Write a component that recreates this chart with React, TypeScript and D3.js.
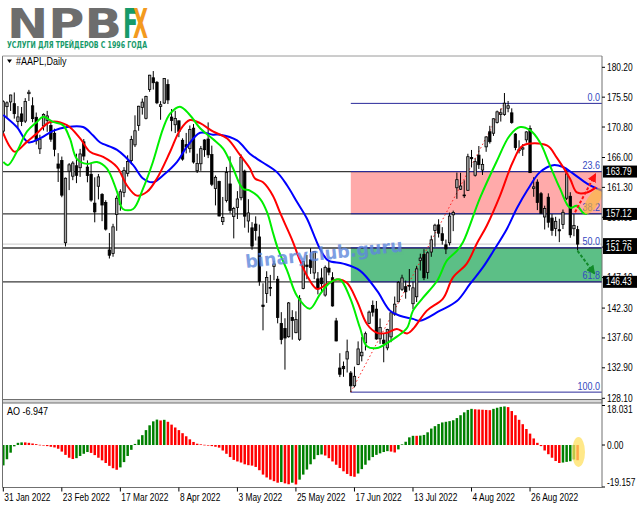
import * as d3 from "d3";

// daily bars, 31 Jan 2022 .. 15 Sep 2022  [open, high, low, close]
const candles: [number, number, number, number][] = [
  [170.16, 175.0, 169.51, 174.78], [174.01, 174.84, 172.31, 174.61], [174.75, 175.88, 173.33, 175.84],
  [174.48, 176.24, 172.12, 172.9], [171.68, 174.1, 170.68, 172.39], [172.86, 173.95, 170.95, 171.66],
  [171.73, 175.35, 171.43, 174.83], [176.05, 176.65, 174.9, 176.28], [174.14, 175.48, 171.55, 172.12],
  [172.33, 173.08, 168.04, 168.64], [167.37, 169.58, 166.56, 168.88], [170.97, 172.95, 170.25, 172.79],
  [171.85, 173.34, 170.05, 172.55], [171.03, 171.91, 168.47, 168.88], [169.82, 170.54, 166.19, 167.3],
  [164.98, 166.69, 162.15, 164.32], [165.54, 166.15, 159.75, 160.07], [152.58, 162.85, 152.0, 162.74],
  [163.84, 165.12, 160.87, 164.85], [163.06, 165.42, 162.43, 165.12], [164.7, 166.6, 161.97, 163.2],
  [164.39, 167.36, 162.95, 166.56], [168.47, 168.91, 165.55, 166.23], [164.49, 165.55, 162.1, 163.17],
  [163.36, 165.02, 159.04, 159.3], [158.82, 162.88, 155.8, 157.44], [161.48, 163.41, 159.41, 162.95],
  [160.2, 160.39, 155.98, 158.52], [158.93, 159.28, 154.5, 154.73], [151.45, 154.12, 150.1, 150.62],
  [150.9, 155.57, 150.38, 155.09], [157.05, 160.0, 154.46, 159.59], [158.61, 161.0, 157.63, 160.62],
  [160.51, 164.48, 159.76, 163.98], [163.51, 166.35, 163.01, 165.38], [165.51, 169.42, 164.91, 168.82],
  [167.99, 172.64, 167.65, 170.21], [171.06, 174.14, 170.21, 174.07], [173.88, 175.28, 172.75, 174.72],
  [172.17, 175.73, 172.0, 175.6], [176.69, 179.01, 176.34, 178.96], [178.55, 179.61, 176.7, 177.77],
  [177.84, 178.03, 174.4, 174.61], [174.03, 174.88, 171.94, 174.31], [174.57, 178.49, 174.44, 178.44],
  [177.5, 178.3, 174.42, 175.06], [172.36, 173.63, 170.13, 171.83], [171.16, 173.36, 169.85, 172.14],
  [171.78, 171.78, 169.2, 170.09], [168.71, 169.03, 165.5, 165.75], [168.02, 169.87, 166.64, 167.66],
  [167.39, 171.04, 166.77, 170.4], [170.62, 171.27, 165.04, 165.29], [163.92, 166.6, 163.57, 165.07],
  [165.02, 167.82, 163.91, 167.4], [168.76, 168.88, 166.1, 167.23], [168.91, 171.53, 165.91, 166.42],
  [166.46, 167.87, 161.5, 161.79], [161.12, 163.17, 158.46, 162.88], [162.25, 162.34, 156.72, 156.8],
  [155.91, 159.79, 155.38, 156.57], [159.25, 164.52, 158.93, 163.64], [161.84, 166.2, 157.25, 157.65],
  [156.71, 158.23, 153.27, 157.96], [158.15, 160.71, 156.32, 159.48], [159.67, 166.48, 159.26, 166.02],
  [163.85, 164.08, 154.95, 156.77], [156.01, 159.44, 154.18, 157.28], [154.93, 155.83, 151.49, 152.06],
  [155.52, 156.74, 152.93, 154.51], [153.5, 155.45, 145.81, 146.5], [142.77, 146.2, 138.8, 142.56],
  [144.59, 148.1, 143.11, 147.11], [145.55, 147.52, 144.18, 145.54], [148.86, 149.77, 146.68, 149.24],
  [146.85, 147.36, 139.9, 140.82], [139.88, 141.66, 136.6, 137.35], [139.09, 140.7, 132.61, 137.59],
  [137.79, 143.26, 137.65, 143.11], [140.81, 141.97, 137.33, 140.36], [138.43, 141.79, 138.34, 140.52],
  [137.39, 144.34, 137.14, 143.78], [145.39, 149.68, 145.26, 149.64], [149.07, 150.66, 146.84, 148.84],
  [149.9, 151.74, 147.68, 148.71], [147.83, 151.27, 146.86, 151.21], [146.9, 147.97, 144.46, 145.38],
  [147.03, 148.57, 144.9, 146.14], [144.35, 149.0, 144.1, 148.71], [148.58, 149.87, 147.46, 147.96],
  [147.08, 147.95, 142.53, 142.64], [140.28, 140.76, 137.06, 137.13], [132.87, 135.2, 131.44, 131.88],
  [133.13, 133.89, 131.48, 132.76], [134.29, 137.34, 132.16, 135.43], [132.08, 132.39, 129.04, 130.06],
  [130.07, 133.08, 129.81, 131.56], [133.42, 137.06, 133.32, 135.87], [134.79, 137.76, 133.91, 135.35],
  [136.82, 138.59, 135.63, 138.27], [139.9, 141.91, 139.77, 141.66], [142.7, 143.49, 140.97, 141.66],
  [142.13, 143.42, 137.32, 137.44], [137.46, 140.67, 136.67, 139.23], [137.25, 138.37, 133.77, 136.72],
  [136.04, 139.04, 135.66, 138.93], [137.77, 141.61, 136.93, 141.56], [141.35, 144.12, 141.08, 142.92],
  [143.29, 146.55, 143.28, 146.35], [145.26, 147.55, 145.0, 147.04], [145.67, 146.64, 143.78, 144.87],
  [145.76, 148.45, 145.05, 145.86], [142.99, 146.45, 142.12, 145.49], [144.08, 148.95, 143.25, 148.47],
  [149.78, 150.86, 148.2, 150.17], [150.74, 151.57, 146.7, 147.07], [147.92, 151.23, 146.91, 151.0],
  [151.12, 153.72, 150.37, 153.04], [154.5, 155.57, 151.94, 155.35], [155.39, 156.28, 153.41, 154.09],
  [154.01, 155.04, 152.28, 152.95], [152.26, 153.09, 150.8, 151.6], [152.58, 157.33, 152.16, 156.79],
  [156.98, 157.64, 154.41, 157.35], [161.24, 163.63, 159.5, 162.51], [161.01, 163.59, 160.89, 161.51],
  [160.1, 162.41, 159.63, 160.01], [160.84, 166.59, 160.75, 166.13], [166.01, 167.19, 164.43, 165.81],
  [163.21, 165.85, 163.0, 165.35], [166.37, 167.81, 164.2, 164.87], [164.02, 165.82, 163.25, 164.92],
  [167.68, 169.34, 166.9, 169.24], [170.06, 170.99, 168.19, 168.49], [169.82, 172.17, 169.4, 172.1],
  [171.52, 173.39, 171.35, 173.19], [172.78, 173.71, 171.66, 173.03], [172.77, 176.15, 172.57, 174.55],
  [173.75, 174.9, 173.12, 174.15], [173.03, 173.74, 171.31, 171.52], [169.69, 169.86, 167.14, 167.57],
  [167.08, 168.71, 166.65, 167.23], [167.32, 168.11, 166.25, 167.53], [168.78, 170.14, 168.35, 170.03],
  [170.57, 171.05, 163.56, 163.62], [161.15, 162.9, 159.82, 161.38], [162.13, 162.56, 157.72, 158.91],
  [160.31, 160.58, 157.14, 157.22], [156.64, 158.42, 154.67, 157.96], [159.75, 160.36, 154.97, 155.81],
  [156.47, 157.09, 153.69, 154.53], [154.82, 156.67, 153.61, 155.96], [154.64, 156.36, 152.68, 154.46],
  [155.47, 157.82, 154.75, 157.37], [159.59, 164.26, 159.3, 163.43], [159.9, 160.54, 153.37, 153.84],
  [154.79, 157.1, 153.61, 155.31], [154.65, 155.24, 151.38, 152.37],
];

// Alligator lines: [bar index, price]
const jaw: [number, number][] = [
  [0, 172.7], [3.7, 170.8], [6.8, 168.4], [10, 169.0], [13.6, 170.2], [17.4, 170.8], [21.8, 170.8],
  [24.5, 169.5], [26.4, 168.4], [31.1, 167.2], [35.5, 164.8], [38.2, 162.7], [40.9, 162.1], [43.7, 163.2],
  [47.5, 165.3], [50.2, 167.7], [53.8, 169.9], [57.3, 169.6], [59.2, 169.6], [63.9, 168.7], [67.4, 166.6],
  [70.7, 165.3], [74.8, 163.7], [77.6, 161.6], [80.3, 159.0], [83, 156.4], [85.2, 153.4], [86.6, 151.6],
  [88.8, 149.8], [92.9, 149.3], [97.5, 148.2], [102.2, 145.0], [105.7, 141.9], [108.4, 141.1], [112, 140.6],
  [113.9, 140.3], [119.4, 141.9], [124, 143.4], [127.6, 146.1], [131.1, 148.7], [133.9, 151.2], [137.7, 154.8],
  [140.4, 158.0], [143.2, 160.8], [146.7, 163.7], [150.3, 164.8], [153, 164.5], [155.7, 163.5], [159.6, 161.9],
  [162.3, 161.1], [165, 160.5],
];
const teeth: [number, number][] = [
  [0, 169.8], [1.8, 167.7], [3.2, 166.9], [6.5, 168.5], [9.2, 169.8], [12.8, 171.6], [17.4, 171.1],
  [21, 169.0], [23.7, 166.9], [27.3, 166.1], [31.1, 164.5], [33.8, 161.6], [36.5, 160.0], [39.3, 160.6],
  [42, 162.7], [45.6, 166.9], [48.3, 170.3], [51, 171.9], [53.8, 171.4], [57.3, 170.1], [61.2, 169.0],
  [64.7, 166.4], [67.4, 164.3], [68.8, 162.7], [71, 162.1], [73.7, 160.0], [75.6, 157.4], [77.6, 154.8],
  [79.2, 152.7], [81.1, 149.8], [83.3, 147.1], [85.8, 145.3], [88.5, 146.1], [91.2, 146.8], [93.9, 146.3],
  [96.7, 143.4], [99.4, 139.8], [102.2, 138.4], [104.9, 138.4], [107.6, 139.0], [110.4, 138.3], [112, 139.0],
  [115.8, 141.9], [120.2, 143.8], [122.9, 147.1], [126.7, 149.3], [129.5, 152.5], [132.2, 155.3],
  [135.8, 160.0], [139.3, 165.3], [142.1, 167.9], [148.6, 167.9], [151.4, 165.9], [154.9, 162.7],
  [156.8, 160.5], [159.6, 160.5], [162, 161.3],
];
const lips: [number, number][] = [
  [0, 165.3], [1.3, 164.8], [3.7, 166.9], [6.5, 170.1], [9.2, 171.6], [10.9, 172.4], [13.6, 171.6],
  [16.3, 171.1], [18.2, 169.0], [20.1, 165.8], [22.9, 165.0], [25.6, 165.3], [28.3, 164.3], [31.1, 160.6],
  [32.7, 157.9], [35.5, 157.9], [38.2, 161.1], [40.9, 165.3], [43.7, 170.6], [45.6, 172.9], [48.3, 174.0],
  [51, 172.7], [53.8, 170.6], [57.3, 168.9], [60.1, 167.4], [62.8, 164.3], [65.5, 161.1], [67.4, 160.8],
  [70.2, 159.5], [72.1, 157.4], [73.7, 154.2], [75.1, 151.6], [77.6, 148.2], [80.3, 144.2], [83.8, 142.2],
  [86.6, 144.5], [89.3, 146.3], [92, 146.8], [94.8, 143.9], [97.5, 139.2], [99.4, 136.3], [102.2, 136.0],
  [104.9, 136.8], [107.6, 137.8], [110.4, 139.2], [112, 141.9], [114.7, 143.9], [118.6, 146.6],
  [121.3, 149.8], [124, 151.3], [125.7, 152.7], [130.3, 159.6], [134.8, 165.3], [138.5, 169.5],
  [141.3, 170.8], [144, 170.3], [146.7, 168.4], [149.4, 164.8], [152.2, 161.1], [154.9, 158.1],
  [156.8, 158.4], [158.5, 157.3], [159.6, 157.1],
];

// Awesome Oscillator, one value per bar
const ao: number[] = [
  -9.3, -6.5, -3.5, -0.6, 1.0, 1.2, 1.2, 1.0, 0.7, 0.4, 0.1, -0.2, -0.5, -0.8, -1.1, -1.7, -3.0, -4.5, -5.8, -6.4,
  -6.0, -5.0, -4.0, -3.2, -3.6, -4.6, -5.8, -7.0, -8.2, -9.5, -10.6, -11.3, -10.2, -7.8, -5.0, -2.2, 0.5, 2.5, 4.5, 6.8,
  9.0, 10.8, 11.6, 11.2, 11.5, 10.6, 9.3, 8.0, 6.8, 5.4, 4.0, 2.6, 1.4, 0.6, 0.3, 0.1, -0.2, -0.5, -0.8, -1.2,
  -2.5, -4.0, -5.5, -6.8, -7.5, -8.0, -8.8, -9.2, -9.4, -10.0, -11.5, -13.5, -14.8, -15.8, -16.5, -17.2, -16.9, -17.5, -17.9, -17.2,
  -18.0, -15.8, -13.5, -11.2, -8.8, -6.5, -4.6, -4.3, -4.8, -6.0, -7.5, -9.0, -10.5, -12.0, -13.2, -14.2, -14.5, -13.0, -11.0, -9.0,
  -7.0, -5.5, -4.5, -3.8, -3.2, -2.8, -3.0, -3.4, -2.0, 0.3, 1.5, 3.5, 4.2, 4.2, 4.3, 4.6, 5.8, 7.5, 8.6, 9.6,
  10.3, 10.6, 10.9, 11.3, 12.3, 13.6, 14.9, 16.0, 16.5, 16.3, 16.2, 16.1, 16.0, 15.9, 16.5, 17.0, 17.4, 17.6, 17.3, 15.5,
  13.6, 11.5, 9.5, 7.3, 5.2, 3.0, 1.0, -0.5, -2.5, -4.2, -5.8, -7.3, -8.2, -8.0, -7.7, -7.4, -6.6, -6.947,
];

const dateBars = [0, 16, 32, 48, 64, 80, 96, 112, 128, 144];
const dateLabels = [
  "31 Jan 2022", "23 Feb 2022", "17 Mar 2022", "8 Apr 2022", "3 May 2022",
  "25 May 2022", "17 Jun 2022", "13 Jul 2022", "4 Aug 2022", "26 Aug 2022",
];
const priceTicks = [180.2, 175.5, 170.8, 166.0, 161.3, 156.6, 151.9, 147.1, 142.3, 137.6, 132.9, 128.1];
const levels = [163.79, 157.12, 151.76, 146.43];
const bidPrice = 152.37;
const fibRatios = [0, 23.6, 38.2, 50, 61.8, 100];
const fibLabels = ["0.0", "23.6", "38.2", "50.0", "61.8", "100.0"];
const fibHigh = 174.52;
const fibLow = 129.07;
const fibLowBar = 95;
const fibHighBar = 137;

const FONT = "'Liberation Sans', Arial, sans-serif";

function T({ x, y, children, sx = 0.84, anchor = "start", fill = "#000", size = 10, weight = 400 }: any) {
  return (
    <text
      transform={`translate(${x},${y}) scale(${sx},1)`}
      fontFamily={FONT}
      fontSize={size}
      fontWeight={weight}
      fill={fill}
      textAnchor={anchor}
    >
      {children}
    </text>
  );
}

export default function App() {
  const left = 2.5;
  const right = 602;
  const top = 56;
  const mainBottom = 399.5;
  const aoTop = 403;
  const bottom = 487.5;

  const x = d3.scaleLinear().domain([0, 157]).range([3.3, 577.6]);
  const y = d3.scaleLinear().domain([128.1, 180.2]).range([398.3, 67.3]);
  const aoY = d3.scaleLinear().domain([-19.157, 18.031]).range([487, 405.5]);

  const line = d3
    .line<[number, number]>()
    .x((d) => x(d[0]))
    .y((d) => y(d[1]))
    .curve(d3.curveCatmullRom.alpha(0.5));

  const fibX0 = x(fibLowBar);
  const fibPrice = (r: number) => fibHigh - ((fibHigh - fibLow) * r) / 100;

  const bodyW = 2.4;
  const aoW = 2.5;

  return (
    <svg width={639} height={508} style={{ position: "absolute", left: 0, top: 0, background: "#fff" }}>
      <defs>
        <clipPath id="main">
          <rect x={left} y={top} width={right - left} height={mainBottom - top} />
        </clipPath>
        <clipPath id="aop">
          <rect x={left} y={aoTop} width={right - left} height={bottom - aoTop} />
        </clipPath>
        <marker id="arR" viewBox="0 0 10 10" refX="8" refY="5" markerWidth="4.5" markerHeight="4.5" orient="auto">
          <path d="M0,0 L10,5 L0,10 z" fill="#ff1010" />
        </marker>
        <marker id="arG" viewBox="0 0 10 10" refX="8" refY="5" markerWidth="4.5" markerHeight="4.5" orient="auto">
          <path d="M0,0 L10,5 L0,10 z" fill="#128a2a" />
        </marker>
      </defs>

      {/* logo */}
      <text x={7} y={37.5} fontFamily="'DejaVu Sans', sans-serif" fontWeight={900} fontSize={40}
        fill="#6d6d6d" textLength={115} lengthAdjust="spacingAndGlyphs">NPB</text>
      <text x={123} y={37.5} fontFamily="'DejaVu Sans', sans-serif" fontWeight={900} fontSize={40}
        fill="#169a6a" textLength={15} lengthAdjust="spacingAndGlyphs">F</text>
      <text x={133} y={37.5} fontFamily="'DejaVu Sans', sans-serif" fontWeight={900} fontSize={40}
        fill="#f39a1e" textLength={15} lengthAdjust="spacingAndGlyphs">X</text>
      <text x={7} y={47.5} fontFamily="'DejaVu Sans', sans-serif" fontWeight={700} fontSize={8.5}
        fill="#169a6a" textLength={140} lengthAdjust="spacingAndGlyphs">УСЛУГИ ДЛЯ ТРЕЙДЕРОВ С 1996 ГОДА</text>

      {/* main panel */}
      <g clipPath="url(#main)">
        <rect x={fibX0} y={y(levels[0])} width={right - fibX0} height={y(levels[1]) - y(levels[0])} fill="#ffaaaa" />
        <rect x={fibX0} y={y(levels[2])} width={right - fibX0} height={y(levels[3]) - y(levels[2])} fill="#5cbf86" />

        <line x1={left} x2={right} y1={y(bidPrice)} y2={y(bidPrice)} stroke="#c8c8c8" strokeWidth={1} />
        {levels.map((p) => (
          <line key={p} x1={left} x2={right} y1={y(p)} y2={y(p)} stroke="#3a3a3a" strokeWidth={1.3} />
        ))}
        {fibRatios.map((r) => (
          <line key={r} x1={fibX0} x2={right} y1={y(fibPrice(r))} y2={y(fibPrice(r))} stroke="#2a2a9a" strokeWidth={1} />
        ))}
        {fibRatios.map((r, i) => (
          <T key={"f" + r} x={600} y={y(fibPrice(r)) - 2.5} anchor="end" fill="#3448c0" sx={0.9}>{fibLabels[i]}</T>
        ))}

        <line x1={x(fibLowBar)} y1={y(fibLow)} x2={x(fibHighBar)} y2={y(fibHigh)} stroke="#ff2020"
          strokeWidth={1} strokeDasharray="1.5,2.5" />

        {candles.map(([o, h, l, c], i) => {
          const cx = x(i);
          const bull = c >= o;
          const yt = y(Math.max(o, c));
          const yb = y(Math.min(o, c));
          return (
            <g key={i}>
              <line x1={cx} x2={cx} y1={y(h)} y2={y(l)} stroke="#000" strokeWidth={1} />
              <rect x={cx - bodyW / 2} y={yt} width={bodyW} height={Math.max(0.8, yb - yt)}
                fill={bull ? "#a6a6a6" : "#000"} stroke="#000" strokeWidth={0.8} />
            </g>
          );
        })}

        <path d={line(jaw) || ""} fill="none" stroke="#0000ff" strokeWidth={2} />
        <path d={line(teeth) || ""} fill="none" stroke="#ff0000" strokeWidth={2} />
        <path d={line(lips) || ""} fill="none" stroke="#00ee00" strokeWidth={2} />

        <line x1={x(156.3)} y1={y(157.4)} x2={x(161.8)} y2={y(163.3)} stroke="#ff1010" strokeWidth={2}
          strokeDasharray="3,2" markerEnd="url(#arR)" />
        <line x1={x(157)} y1={y(151.3)} x2={x(161.5)} y2={y(147.8)} stroke="#128a2a" strokeWidth={2}
          strokeDasharray="3,2" markerEnd="url(#arG)" />
        <ellipse cx={593} cy={201} rx={6} ry={15} transform="rotate(32,593,201)" fill="#fbb93a" opacity={0.65} />

        <text transform="translate(246,268) rotate(-6)" fontFamily="'DejaVu Sans', sans-serif" fontWeight={700}
          fontSize={18} fill="#5f88dc" opacity={0.8} textLength={158} lengthAdjust="spacingAndGlyphs">
          binaryclub.guru
        </text>
      </g>

      <path d="M7,59.5 L12,59.5 L9.5,63 z" fill="#000" />
      <T x={16} y={65} sx={0.9}>#AAPL,Daily</T>

      {/* AO panel */}
      <g clipPath="url(#aop)">
        {ao.map((v, i) => {
          const up = i === 0 ? true : v > ao[i - 1];
          const y0 = aoY(0);
          const y1 = aoY(v);
          return (
            <rect key={i} x={x(i) - aoW / 2} y={Math.min(y0, y1)} width={aoW} height={Math.max(0.6, Math.abs(y1 - y0))}
              fill={up ? "#008000" : "#ff0000"} />
          );
        })}
        <ellipse cx={578.5} cy={452} rx={6.5} ry={15} fill="#ffe060" opacity={0.75} />
      </g>
      <T x={7} y={415} sx={0.9}>AO -6.947</T>

      {/* frame */}
      <rect x={left} y={mainBottom} width={right - left} height={3.5} fill="#d8d8d8" stroke="#707070" strokeWidth={1} />
      <line x1={left} x2={left} y1={top} y2={bottom} stroke="#707070" strokeWidth={1} />
      <line x1={left} x2={right} y1={top} y2={top} stroke="#9a9a9a" strokeWidth={1} />
      <line x1={right} x2={right} y1={top} y2={bottom} stroke="#707070" strokeWidth={1} />
      <line x1={left} x2={right} y1={bottom} y2={bottom} stroke="#707070" strokeWidth={1} />

      {/* price axis */}
      {priceTicks.map((p) => (
        <g key={p}>
          <line x1={right} x2={right + 3} y1={y(p)} y2={y(p)} stroke="#000" />
          <T x={607} y={y(p) + 3.5}>{p.toFixed(2)}</T>
        </g>
      ))}
      <rect x={603} y={y(bidPrice) - 6} width={34} height={12} fill="#000" />
      <T x={606} y={y(bidPrice) + 3.5} fill="#fff">{bidPrice.toFixed(2)}</T>
      {levels.map((p) => (
        <g key={"l" + p}>
          <rect x={603} y={y(p) - 6} width={34} height={12} fill="#000" />
          <T x={606} y={y(p) + 3.5} fill="#fff">{p.toFixed(2)}</T>
        </g>
      ))}

      {[18.031, 0, -19.157].map((v) => (
        <g key={"a" + v}>
          <line x1={right} x2={right + 3} y1={aoY(v)} y2={aoY(v)} stroke="#000" />
          <T x={607} y={aoY(v) + (v > 0 ? 7 : v < 0 ? -1 : 3.5)}>{v === 0 ? "0.00" : v.toFixed(3)}</T>
        </g>
      ))}

      {/* date axis */}
      {dateBars.map((b, i) => (
        <g key={b}>
          <line x1={x(b)} x2={x(b)} y1={bottom} y2={bottom + 4} stroke="#000" />
          <T x={x(b) + 1} y={501}>{dateLabels[i]}</T>
        </g>
      ))}
    </svg>
  );
}
